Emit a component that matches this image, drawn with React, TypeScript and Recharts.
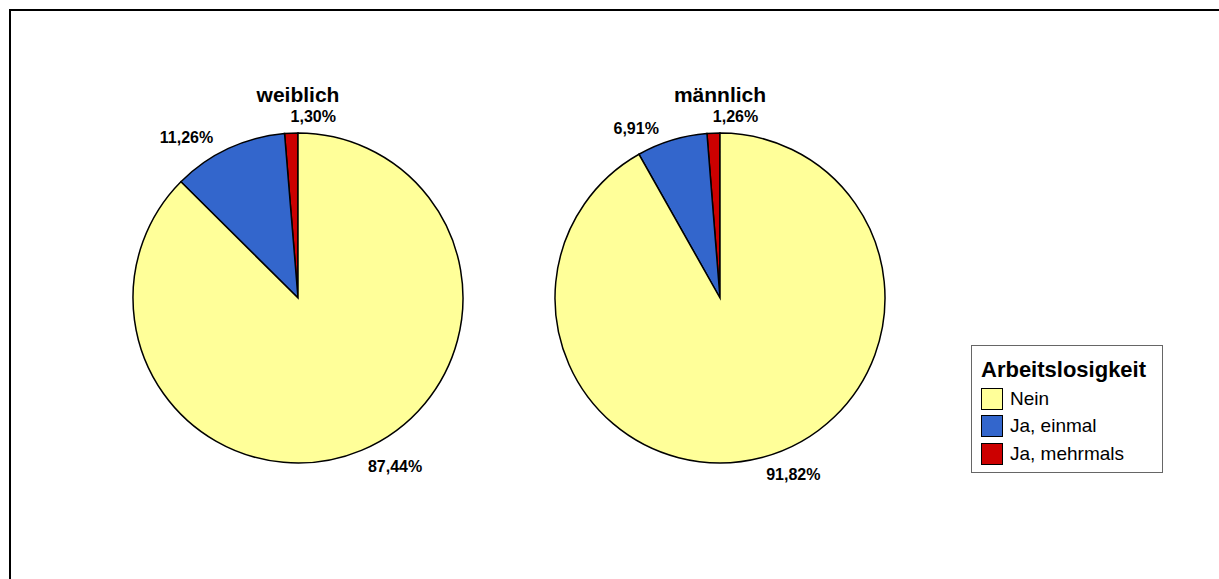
import React from 'react';
import { PieChart, Pie, Cell, Legend } from 'recharts';

// Reihenfolge: ab 12 Uhr gegen den Uhrzeigersinn
const categories = ['Ja, mehrmals', 'Ja, einmal', 'Nein'];
const weiblich = [1.3, 11.26, 87.44];
const maennlich = [1.26, 6.91, 91.82];
const colors = ['#CC0000', '#3366CC', '#FFFF99'];
const legendOrder = ['Nein', 'Ja, einmal', 'Ja, mehrmals'];

const toData = (values: number[]) => categories.map((name, i) => ({ name, value: values[i] }));
const fmt = (v: number) => v.toFixed(2).replace('.', ',') + '%';

const FONT = '"Liberation Sans", Arial, sans-serif';
const RAD = Math.PI / 180;

const renderLabel = (props: any) => {
  const { cx, cy, midAngle, outerRadius, value } = props;
  const r = outerRadius + 17;
  let x = cx + r * Math.cos(-midAngle * RAD);
  let y = cy + r * Math.sin(-midAngle * RAD);
  const anchor = x >= cx - 10 ? 'start' : 'end';
  if (anchor === 'end') {
    x -= 8;
    y += 5;
  }
  return (
    <text
      x={x}
      y={y}
      textAnchor={anchor}
      dominantBaseline="central"
      fontFamily={FONT}
      fontWeight="bold"
      fontSize={16}
      fill="#000"
    >
      {fmt(value)}
    </text>
  );
};

const LegendBox = () => (
  <div
    style={{
      width: 192,
      height: 128,
      border: '1.5px solid #666',
      background: '#fff',
      fontFamily: FONT,
      boxSizing: 'border-box',
      padding: '11px 0 0 9px',
    }}
  >
    <div style={{ fontWeight: 'bold', fontSize: 22, lineHeight: '25px', marginBottom: 3 }}>Arbeitslosigkeit</div>
    {legendOrder.map((name) => (
      <div key={name} style={{ display: 'flex', alignItems: 'center', height: 27.5 }}>
        <span
          style={{
            display: 'inline-block',
            width: 20,
            height: 20,
            border: '1.5px solid #000',
            background: colors[categories.indexOf(name)],
            marginRight: 7,
          }}
        />
        <span style={{ fontSize: 19 }}>{name}</span>
      </div>
    ))}
  </div>
);

const App: React.FC = () => {
  return (
    <div style={{ position: 'absolute', left: 0, top: 0, width: 1219, height: 579, overflow: 'hidden', background: '#fff' }}>
      <div
        style={{
          position: 'absolute',
          left: 9,
          top: 9,
          width: 1240,
          height: 620,
          border: '2px solid #000',
        }}
      />
      <PieChart
        width={1219}
        height={579}
        margin={{ top: 0, right: 0, bottom: 0, left: 0 }}
        style={{ position: 'absolute', left: 0, top: 0 }}
      >
        <text x={298} y={94} textAnchor="middle" dominantBaseline="central" fontFamily={FONT} fontWeight="bold" fontSize={21}>
          weiblich
        </text>
        <text x={720} y={94} textAnchor="middle" dominantBaseline="central" fontFamily={FONT} fontWeight="bold" fontSize={21}>
          männlich
        </text>
        <Pie
          data={toData(weiblich)}
          dataKey="value"
          cx={298}
          cy={298}
          outerRadius={165}
          startAngle={90}
          endAngle={450}
          stroke="#000"
          strokeWidth={1.5}
          label={renderLabel}
          labelLine={false}
          isAnimationActive={false}
        >
          {categories.map((c, i) => (
            <Cell key={c} fill={colors[i]} />
          ))}
        </Pie>
        <Pie
          data={toData(maennlich)}
          dataKey="value"
          cx={720}
          cy={298}
          outerRadius={165}
          startAngle={90}
          endAngle={450}
          stroke="#000"
          strokeWidth={1.5}
          label={renderLabel}
          labelLine={false}
          isAnimationActive={false}
        >
          {categories.map((c, i) => (
            <Cell key={c} fill={colors[i]} />
          ))}
        </Pie>
        <Legend content={<LegendBox />} wrapperStyle={{ left: 971, top: 345, width: 194 }} />
      </PieChart>
    </div>
  );
};

export default App;
